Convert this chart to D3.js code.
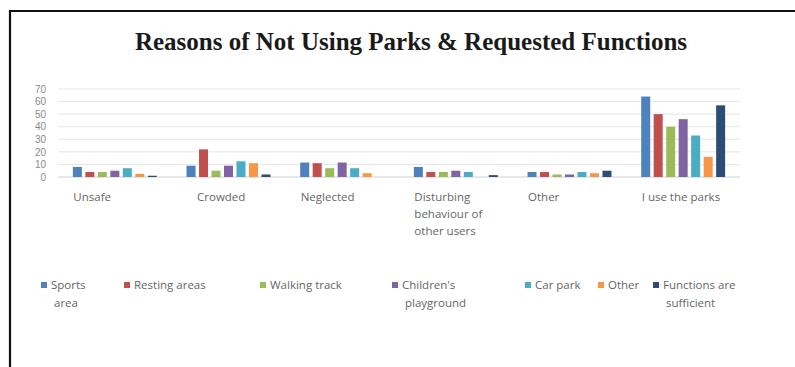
<!DOCTYPE html>
<html><head><meta charset="utf-8">
<script src="https://cdn.jsdelivr.net/npm/d3@7"></script>
<style>body{margin:0;background:#fff;}svg{display:block;}</style>
</head><body>
<script>
const categories = ["Unsafe","Crowded","Neglected","Disturbing behaviour of other users","Other","I use the parks"];
const categoryLines = [["Unsafe"],["Crowded"],["Neglected"],["Disturbing","behaviour of","other users"],["Other"],["I use the parks"]];
const seriesNames = ["Sports area","Resting areas","Walking track","Children's playground","Car park","Other","Functions are sufficient"];
const legendLines = [["Sports","area"],["Resting areas"],["Walking track"],["Children's","playground"],["Car park"],["Other"],["Functions are","sufficient"]];
const colors = ["#4F81BD","#C0504D","#9BBB59","#8064A2","#4BACC6","#F79646","#2C4D75"];
const sportsArea = [8,9,11.5,8,4,64];
const restingAreas = [4,22,11,4,4,50];
const walkingTrack = [4,5,7,4,2,40];
const childrensPlayground = [5,9,11.5,5,2,46];
const carPark = [7,12.5,7,4,4,33];
const otherFn = [2.5,11,3,0,3,16];
const functionsSufficient = [1,2,0,1.5,5,57];
const yTicks = [0,10,20,30,40,50,60,70];
const series = [sportsArea,restingAreas,walkingTrack,childrensPlayground,carPark,otherFn,functionsSufficient];

const W=795,H=367;
const svg=d3.select("body").append("svg").attr("width",W).attr("height",H);
svg.append("rect").attr("width",W).attr("height",H).attr("fill","#fff");
// frame (left + top)
svg.append("path").attr("d","M10,367 V11 H795").attr("fill","none").attr("stroke","#111").attr("stroke-width",2.2);

svg.append("text").attr("x",411).attr("y",50).attr("text-anchor","middle")
  .attr("font-family","Liberation Serif, Times New Roman, serif").attr("font-weight","bold")
  .attr("font-size",25).attr("fill","#1a1a1a").text("Reasons of Not Using Parks & Requested Functions");

const x0=d3.scaleBand().domain(categories).range([58,740]).paddingInner(0.2).paddingOuter(0.1);
const x1=d3.scaleBand().domain(seriesNames).range([0,x0.bandwidth()]).padding(0.28);
const y=d3.scaleLinear().domain([0,70]).range([177,89]);

const grid=svg.append("g");
grid.selectAll("line").data(yTicks).join("line")
  .attr("x1",58).attr("x2",740).attr("y1",d=>y(d)).attr("y2",d=>y(d))
  .attr("stroke",d=>d===0?"#d0d0d0":"#e6e6e6").attr("stroke-width",1);

const yAxis=d3.axisLeft(y).tickValues(yTicks).tickSize(0).tickPadding(0);
const ya=svg.append("g").attr("transform","translate(46,0)").call(yAxis);
ya.select(".domain").remove();
ya.selectAll("text").attr("font-family","Liberation Sans, sans-serif").attr("font-size",10).attr("fill","#8a8a8a");

const groups=svg.append("g").selectAll("g").data(categories).join("g")
  .attr("transform",d=>`translate(${x0(d)},0)`);
groups.selectAll("rect").data((c,i)=>series.map((s,j)=>({name:seriesNames[j],v:s[i],c:colors[j]}))).join("rect")
  .attr("x",d=>x1(d.name)).attr("width",x1.bandwidth())
  .attr("y",d=>y(d.v)).attr("height",d=>y(0)-y(d.v)).attr("fill",d=>d.c);

// category labels
const cl=svg.append("g").attr("font-family","Open Sans, Liberation Sans, sans-serif").attr("font-size",11.5).attr("fill","#666");
categories.forEach((c,i)=>{
  const t=cl.append("text").attr("x",x0(c)+4).attr("y",201);
  categoryLines[i].forEach((l,k)=>t.append("tspan").attr("x",x0(c)+4+(i===1?10:0)).attr("dy",k?17:0).text(l));
});

// legend
const legX=[41,124,260,392,525,598,653];
const lg=svg.append("g").attr("font-family","Open Sans, Liberation Sans, sans-serif").attr("font-size",11.5).attr("fill","#666");
seriesNames.forEach((s,j)=>{
  lg.append("rect").attr("x",legX[j]).attr("y",282).attr("width",6).attr("height",6).attr("fill",colors[j]);
  const t=lg.append("text").attr("y",289);
  legendLines[j].forEach((l,k)=>t.append("tspan").attr("x",legX[j]+10+(k?3:0)).attr("dy",k?18:0).text(l));
});
</script>
</body></html>
